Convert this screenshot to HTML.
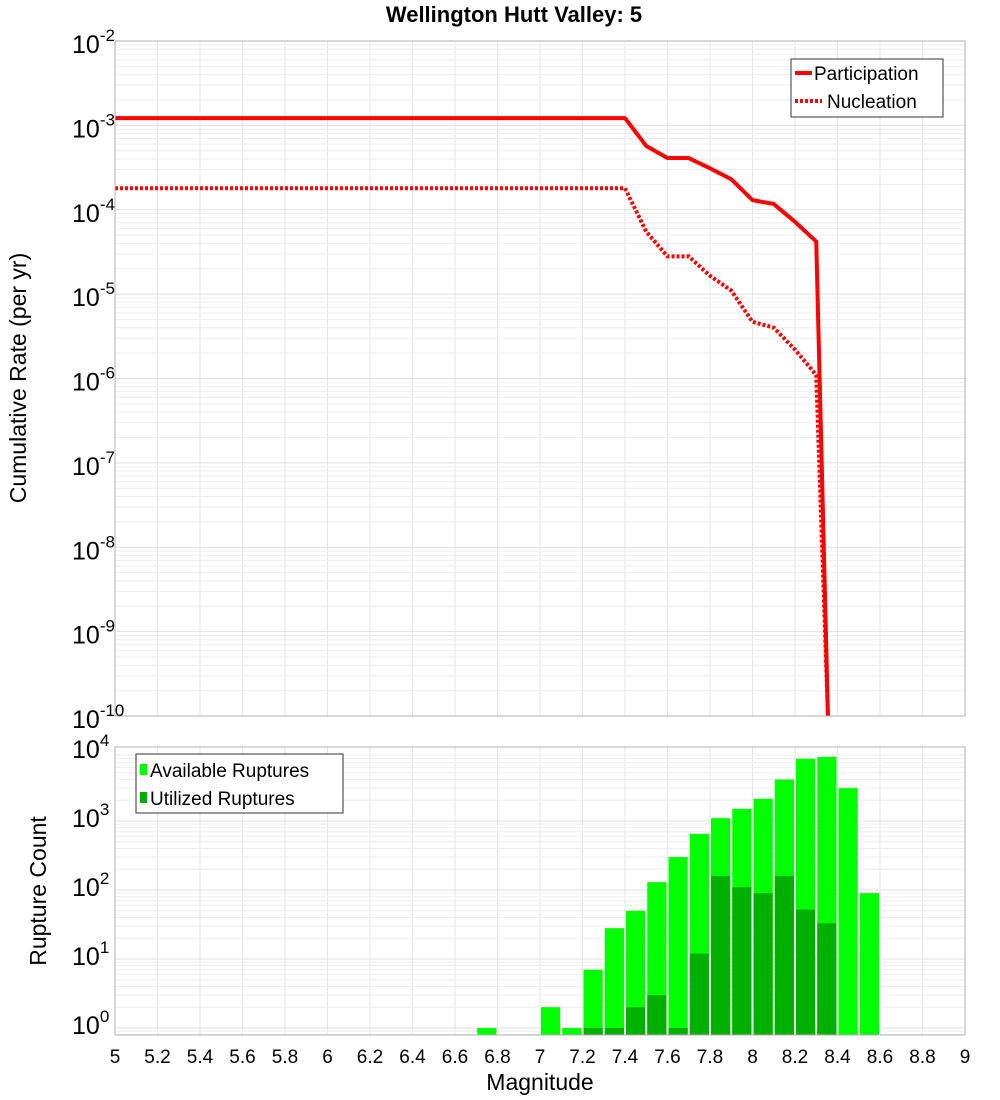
<!DOCTYPE html>
<html><head><meta charset="utf-8"><style>
body{margin:0;background:#fff}
svg{display:block;font-family:"Liberation Sans","DejaVu Sans",sans-serif}
</style></head><body>
<svg id="chart" width="1000" height="1100" xmlns="http://www.w3.org/2000/svg">
<text x="514" y="22" text-anchor="middle" font-size="22" font-weight="bold">Wellington Hutt Valley: 5</text>
<text transform="translate(26,378) rotate(-90)" text-anchor="middle" font-size="23">Cumulative Rate (per yr)</text>
<text transform="translate(46,891) rotate(-90)" text-anchor="middle" font-size="23">Rupture Count</text>
<text x="540" y="1090" text-anchor="middle" font-size="23">Magnitude</text>
<g id="topGrid"></g><g id="botGrid"></g>
<g id="bars"></g>
<g id="lines"></g>
<rect x="115" y="41" width="850" height="675" fill="none" stroke="#b0b0b0"/>
<rect x="115" y="747" width="850" height="288" fill="none" stroke="#b0b0b0"/>
<g id="ticks"></g>
<g>
<rect x="791" y="59" width="152" height="58" fill="#fff" stroke="#333"/>
<line x1="795" y1="73" x2="812" y2="73" stroke="#f00" stroke-width="4"/>
<text x="814" y="80" font-size="19">Participation</text>
<line x1="795" y1="101" x2="822" y2="101" stroke="#f00" stroke-width="4" stroke-dasharray="3,2"/>
<text x="827" y="108" font-size="19">Nucleation</text>
</g>
<g>
<rect x="136" y="754" width="207" height="59" fill="#fff" stroke="#333"/>
<rect x="140" y="764" width="7" height="11" fill="#00ff00"/>
<text x="150" y="777" font-size="19">Available Ruptures</text>
<rect x="140" y="792" width="7" height="11" fill="#00b000"/>
<text x="150" y="805" font-size="19">Utilized Ruptures</text>
</g>
</svg>
<script>
const xTickLabels=["5","5.2","5.4","5.6","5.8","6","6.2","6.4","6.6","6.8","7","7.2","7.4","7.6","7.8","8","8.2","8.4","8.6","8.8","9"];
const partMags=[5.0,7.4,7.5,7.6,7.7,7.8,7.9,8.0,8.1,8.2,8.3,8.355];
const partRates=[1.22e-3,1.22e-3,5.7e-4,4.1e-4,4.1e-4,3.1e-4,2.3e-4,1.3e-4,1.17e-4,7.2e-5,4.2e-5,1e-10];
const nuclMags=[5.0,7.4,7.5,7.6,7.7,7.8,7.9,8.0,8.1,8.2,8.3,8.355];
const nuclRates=[1.8e-4,1.8e-4,5.5e-5,2.8e-5,2.8e-5,1.65e-5,1.1e-5,4.7e-6,4e-6,2.2e-6,1.1e-6,1e-10];
const binStarts=[6.7,7.0,7.1,7.2,7.3,7.4,7.5,7.6,7.7,7.8,7.9,8.0,8.1,8.2,8.3,8.4,8.5];
const availCounts=[1,2,1,7,28,50,130,300,650,1100,1500,2100,4000,8000,8500,3000,90];
const usedCounts=[0,0,0,1,1,2,3,1,12,160,110,90,160,52,33,0,0];
const NS="http://www.w3.org/2000/svg";
const X=m=>115+(m-5)*212.5;
const YT=v=>41+(-2-Math.log10(v))*84.375;
const YB=v=>1028-Math.log10(v)*69;
function mk(p,t,a){const e=document.createElementNS(NS,t);for(const k in a)e.setAttribute(k,a[k]);document.getElementById(p).appendChild(e);return e;}
// grids
for(let i=0;i<xTickLabels.length;i++){const x=X(5+i*0.2);
 let g=mk('topGrid','line',{x1:x,x2:x,y1:41,y2:716,stroke:'#e6e6e6'});
 
 
 let g2=mk('botGrid','line',{x1:x,x2:x,y1:747,y2:1035,stroke:'#e6e6e6'});
 
 
 let t=mk('ticks','text',{x:x,y:1063,'text-anchor':'middle','font-size':19});
 t.textContent=xTickLabels[i];
 
 
}
for(let d=-10;d<-2;d++)for(let k=1;k<10;k++){const y=YT(k*Math.pow(10,d));
 let g=mk('topGrid','line',{x1:115,x2:965,y1:y,y2:y,stroke:k==1?'#e0e0e0':'#eeeeee'});
 
 }
for(let d=-1;d<4;d++)for(let k=1;k<10;k++){const y=YB(k*Math.pow(10,d));if(y>1035||y<747)continue;
 let g=mk('botGrid','line',{x1:115,x2:965,y1:y,y2:y,stroke:k==1?'#e0e0e0':'#eeeeee'});
 
 }
// y tick labels
for(let d=-10;d<=-2;d++){const y=YT(Math.pow(10,d));
 let t=mk('ticks','text',{x:72,y:y+12,'font-size':25});
 t.innerHTML='10<tspan dy="-12" font-size="17">'+d+'</tspan>';
 
 }
for(let d=0;d<=4;d++){const y=YB(Math.pow(10,d));
 let t=mk('ticks','text',{x:72,y:y+6,'font-size':25});
 t.innerHTML='10<tspan dy="-12" font-size="17">'+d+'</tspan>';
 
 }
// bars
for(let i=0;i<binStarts.length;i++){const x0=X(binStarts[i])+1,w=212.5*0.1-2;
 let y=YB(availCounts[i]);
 let b=mk('bars','rect',{x:x0,y:y,width:w,height:1035-y,fill:'#00ff00'});
 
 
 if(usedCounts[i]>0){let y2=YB(usedCounts[i]);
  let u=mk('bars','rect',{x:x0,y:y2,width:w,height:1035-y2,fill:'#00b000'});
  
  }}
// lines
const clip=mk('lines','clipPath',{id:'tc'});
const cr=document.createElementNS(NS,'rect');cr.setAttribute('x',115);cr.setAttribute('y',41);cr.setAttribute('width',850);cr.setAttribute('height',675);clip.appendChild(cr);
function pts(ms,vs){return ms.map((m,i)=>X(m)+','+YT(vs[i])).join(' ');}
let pl=mk('lines','polyline',{points:pts(partMags,partRates),fill:'none',stroke:'#f00','stroke-width':4,'clip-path':'url(#tc)','stroke-linejoin':'round'});


let nl=mk('lines','polyline',{points:pts(nuclMags,nuclRates),fill:'none',stroke:'#f00','stroke-width':4,'stroke-dasharray':'3,2','clip-path':'url(#tc)'});


</script>
</body></html>
